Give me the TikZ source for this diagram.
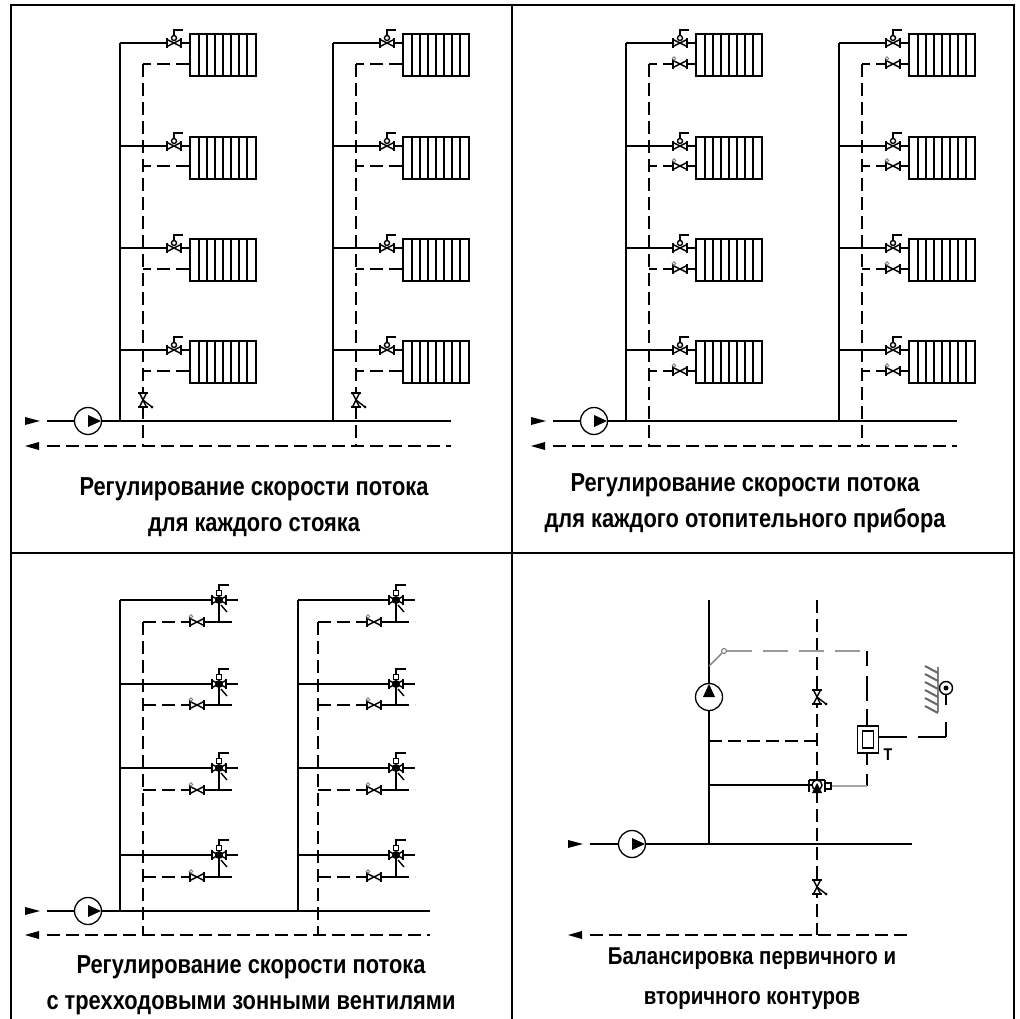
\documentclass[tikz,border=0pt]{standalone}
\usepackage{fontspec}
\usetikzlibrary{calc}
\setmainfont[FakeStretch=0.84]{Liberation Sans}
\tikzset{
  pipe/.style={line width=1.6pt},
  retpipe/.style={line width=1.6pt, dash pattern=on 13pt off 6pt},
  ctrl/.style={line width=1.5pt, gray!80, dash pattern=on 25pt off 11pt},
  thin part/.style={line width=1.4pt},
  pump/.style={circle, draw, line width=1.3pt, fill=white, minimum size=27pt, inner sep=0pt},
  radiator/.style={draw, line width=1.5pt, fill=white, minimum width=66pt, minimum height=42pt, inner sep=0pt},
  caption/.style={align=center, font=\fontsize{26}{36}\selectfont\bfseries},
  pics/fins/.style={code={
    \foreach \k in {-3,...,3}{\draw[line width=1.5pt] (\k*8,-21)--(\k*8,21);}}},
  pics/bowtie/.style={code={
    \draw[thin part, fill=white] (-7,-3.5)--(7,3.5)--(7,-3.5)--(-7,3.5)--cycle;
    \draw[thin part] (-7,-5)--(-7,5) (7,-5)--(7,5);}},
  pics/radvalve/.style={code={
    \draw[thin part] (0,-6)--(0,-13)--(9,-13);
    \pic {bowtie};
    \draw[thin part, fill=white] (0,-5) circle (2.5);}},
  pics/retvalve/.style={code={
    \pic {bowtie};
    \draw[line width=0.9pt, gray] (-6,-5.5) circle (1.8);}},
  pics/balvalve/.style={code={
    \pic[rotate=90] {bowtie};
    \draw[thin part] (0,0)--(9,7);
    \fill (9,7) circle (1.5);}},
  pics/zonevalve/.style={code={
    \draw[thin part] (0,-7)--(0,-15)--(10,-15);
    \draw[thin part, fill=white] (-2.5,-9.5) rectangle (2.5,-4.5);
    \pic {bowtie};
    \fill (0,0) circle (4);
    \draw[thin part] (2,5)--(8,12);}},
  pics/pumptip/.style={code={\fill (0,-6)--(13,0)--(0,6)--cycle;}},
  pics/tipin/.style={code={\fill (-7,-4)--(8,0)--(-7,4)--cycle;}},
  pics/tipout/.style={code={\fill (-7,0)--(7,-4)--(7,4)--cycle;}},
}
\begin{document}
\begin{tikzpicture}[x=1pt,y=-1pt]
\useasboundingbox (0,0) rectangle (1020,1019);
% frame
\draw[line width=2pt] (10.5,1019)--(10.5,5)--(1014,5)--(1014,1019);
\draw[line width=2pt] (512,5)--(512,1019);
\draw[line width=2pt] (10.5,553)--(1014,553);

% upper panels
\foreach \p/\dx in {a/0,b/506}{
\begin{scope}[xshift=\dx]
\node[pump] (pump\p) at (88,421) {};
\coordinate (in\p) at (47,421);
\coordinate (end\p) at (451,421);
\coordinate (rin\p) at (47,446);
\coordinate (rend\p) at (451,446);
\draw[pipe] (in\p)--(pump\p);
\draw[pipe] (pump\p)--(end\p);
\draw[retpipe] (rin\p)--(rend\p);
\pic at (pump\p) {pumptip};
\pic at (32,421) {tipin};
\pic at (32,446) {tipout};
\foreach \n/\sx in {1/0,2/213}{
\begin{scope}[xshift=\sx]
\coordinate (top\p\n) at (120,43);
\coordinate (foot\p\n) at (120,421);
\coordinate (rtop\p\n) at (143,64);
\coordinate (rfoot\p\n) at (143,446);
\draw[pipe] (top\p\n)--(foot\p\n);
\draw[retpipe] (rtop\p\n)--(rfoot\p\n);
\foreach \r/\ys/\yr in {1/43/64,2/146/166,3/248/269,4/350/371}{
\node[radiator] (rad\p\n\r) at (223,\ys+12) {};
\pic at (rad\p\n\r) {fins};
\coordinate (sup\p\n\r) at (120,\ys);
\coordinate (ret\p\n\r) at (143,\yr);
\coordinate (valve\p\n\r) at (174,\ys);
\draw[pipe] (sup\p\n\r)--(sup\p\n\r-|rad\p\n\r.west);
\draw[retpipe] (ret\p\n\r-|rad\p\n\r.west)--(ret\p\n\r);
\pic at (valve\p\n\r) {radvalve};
}
\end{scope}}
\end{scope}}
% balancing valves on the returns
\pic at (143,400) {balvalve};
\pic at (356,400) {balvalve};
% return valves
\foreach \n in {1,2}\foreach \r in {1,...,4}{
\coordinate (rv\n\r) at ($(retb\n\r)+(31,0)$);
\draw[pipe] (rv\n\r)--(rv\n\r-|radb\n\r.west);
\pic at (rv\n\r) {retvalve};
}

% lower left panel
\node[pump] (pumpc) at (88,911) {};
\coordinate (inc) at (47,911);
\coordinate (endc) at (430,911);
\coordinate (rinc) at (47,935);
\coordinate (rendc) at (430,935);
\draw[pipe] (inc)--(pumpc);
\draw[pipe] (pumpc)--(endc);
\draw[retpipe] (rinc)--(rendc);
\pic at (pumpc) {pumptip};
\pic at (32,911) {tipin};
\pic at (32,935) {tipout};
\foreach \n/\sx/\rx/\vx in {1/120/143/219,2/298/318/396}{
\coordinate (topc\n) at (\sx,600);
\coordinate (footc\n) at (\sx,911);
\coordinate (rtopc\n) at (\rx,622);
\coordinate (rfootc\n) at (\rx,935);
\draw[pipe] (topc\n)--(footc\n);
\draw[retpipe] (rtopc\n)--(rfootc\n);
\foreach \r/\ys/\yr in {1/600/622,2/684/705,3/768/790,4/855/877}{
\coordinate (zone\n\r) at (\vx,\ys);
\coordinate (zret\n\r) at (\vx,\yr);
\coordinate (bal\n\r) at (\vx-22,\yr);
\draw[pipe] (\sx,\ys)--(\vx+19,\ys);
\draw[retpipe] (\rx,\yr)--(bal\n\r);
\draw[retpipe] (zret\n\r)--(\vx+19,\yr);
\draw[pipe] (bal\n\r)--(zret\n\r)--(zone\n\r);
\pic at (bal\n\r) {retvalve};
\pic at (zone\n\r) {zonevalve};
}}

% lower right panel
\coordinate (in) at (590,844);
\coordinate (end) at (912,844);
\coordinate (rin) at (590,935);
\coordinate (rend) at (912,935);
\coordinate (head) at (709,600);
\coordinate (tee) at (709,844);
\coordinate (shead) at (817,600);
\coordinate (sfoot) at (817,935);
\node[pump] (pumpd) at (632,844) {};
\node[pump] (pumpe) at (709,697) {};
\draw[pipe] (in)--(pumpd);
\draw[pipe] (pumpd)--(end);
\draw[retpipe] (rin)--(rend);
\draw[pipe] (head)--(pumpe);
\draw[pipe] (pumpe)--(tee);
\draw[retpipe] (shead)--(sfoot);
\pic at (pumpd) {pumptip};
\pic[rotate=90] at (pumpe) {pumptip};
\pic at (575,844) {tipin};
\pic at (575,935) {tipout};
\coordinate (bypass) at (709,741);
\coordinate (mix) at (817,785);
\coordinate (mixin) at (709,785);
\draw[retpipe] (bypass)--(bypass-|mix);
\draw[pipe] (mixin)--(mix);
\pic at (817,697) {balvalve};
\pic at (817,887) {balvalve};
% control loop
\node[draw, line width=1.6pt, fill=white, minimum width=21pt, minimum height=27pt, inner sep=0pt] (ctrlbox) at (868,739.5) {};
\node[draw, line width=1.6pt, minimum width=11pt, minimum height=17pt, inner sep=0pt] (ctrlcore) at (ctrlbox) {};
\node[font=\fontsize{17}{17}\selectfont\bfseries] (tlabel) at (888,755) {T};
\node[circle, draw, line width=1.1pt, gray, fill=white, minimum size=5pt, inner sep=0pt] (tap) at (724,651) {};
\coordinate (tapfoot) at (709,666);
\coordinate (corner) at (867,651);
\coordinate (lowcorner) at (867,786);
\coordinate (boxout) at (879,737);
\coordinate (sensfoot) at (946,737);
\node[draw, line width=1.4pt, fill=white, minimum size=6pt, inner sep=0pt] (actuator) at (828,786) {};
\draw[line width=1.4pt, gray] (tapfoot)--(tap);
\draw[ctrl] (tap)--(corner);
\draw[pipe, dash pattern=on 15pt off 10pt on 25pt off 8pt on 18pt] (corner)--(ctrlbox.north-|corner);
\draw[pipe, dash pattern=on 11pt off 9pt on 13pt] (ctrlbox.south-|corner)--(lowcorner);
\draw[line width=2pt, gray!70] (actuator)--(lowcorner);
\node[circle, fill=white, draw, line width=1.4pt, minimum size=10pt, inner sep=0pt] (mixbody) at (mix) {};
\fill (812,793)--(822,793)--(817,783)--cycle;
\draw[line width=2pt] (809,780)--(809,792) (825,780)--(825,792);
\draw[line width=1.5pt] (809,780)--(825,780);
\node[circle, draw, line width=1.4pt, fill=white, minimum size=13pt, inner sep=0pt] (sensor) at (946,688) {};
\fill (sensor) circle (2.5);
\draw[pipe, dash pattern=on 28pt off 11pt] (boxout)--(sensfoot);
\draw[pipe, dash pattern=on 15pt off 17pt] (sensfoot)--(sensor);
% wall
\draw[line width=1.8pt, gray] (938,667)--(938,712);
\foreach \h in {667,675,...,707}{
\draw[line width=2pt, gray!80!black] (938,\h+6)--(925,\h-1);
}

% captions
\node[caption] (capa) at (254,507) {Регулирование скорости потока\\для каждого стояка};
\node[caption] (capb) at (745,503) {Регулирование скорости потока\\для каждого отопительного прибора};
\node[caption] (capc) at (251,985) {Регулирование скорости потока\\с трехходовыми зонными вентилями};
\node[caption, font=\fontsize{24.3}{36}\selectfont\bfseries] (capd) at (752,979) {Балансировка первичного и\\[4pt]вторичного контуров};
\end{tikzpicture}
\end{document}
